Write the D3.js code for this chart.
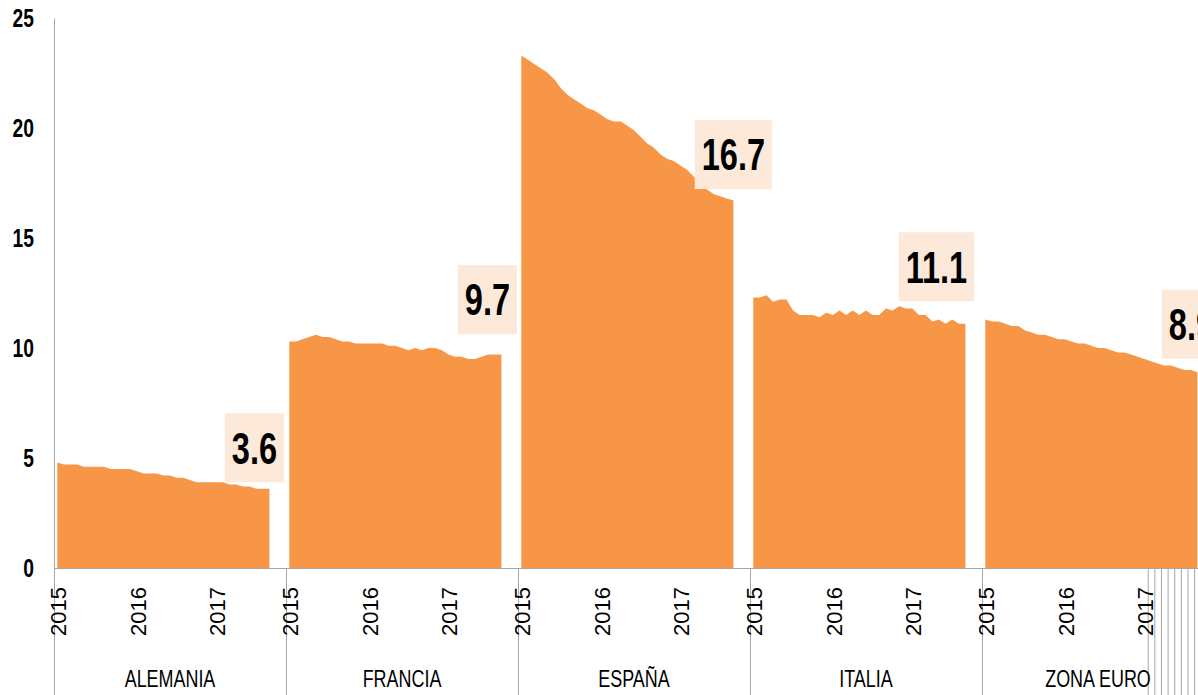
<!DOCTYPE html>
<html>
<head>
<meta charset="utf-8">
<script src="https://cdn.jsdelivr.net/npm/d3@7/dist/d3.min.js"></script>
<style>
    body { margin: 0; background: #fff; }
</style>
</head>
<body>
<div id="chart"></div>
<script>
// monthly unemployment rate (%), Jan 2015 - Sep 2017
const categories = ["ALEMANIA", "FRANCIA", "ESPAÑA", "ITALIA", "ZONA EURO"];
const yearLabels = ["2015", "2016", "2017"];
const yTicks = [0, 5, 10, 15, 20, 25];

const alemania = [4.8, 4.7, 4.7, 4.7, 4.6, 4.6, 4.6, 4.6, 4.5, 4.5, 4.5, 4.5, 4.4, 4.3, 4.3, 4.3, 4.2,
    4.2, 4.1, 4.1, 4.0, 3.9, 3.9, 3.9, 3.9, 3.9, 3.8, 3.8, 3.7, 3.7, 3.6, 3.6, 3.6];
const francia = [10.3, 10.3, 10.4, 10.5, 10.6, 10.5, 10.5, 10.4, 10.3, 10.3, 10.2, 10.2, 10.2, 10.2, 10.2, 10.1, 10.1,
    10.0, 9.9, 10.0, 9.9, 10.0, 10.0, 9.9, 9.7, 9.6, 9.6, 9.5, 9.5, 9.6, 9.7, 9.7, 9.7];
const espana = [23.3, 23.1, 22.9, 22.7, 22.5, 22.2, 21.8, 21.5, 21.3, 21.1, 20.9, 20.8, 20.6, 20.4, 20.3, 20.3, 20.1,
    19.9, 19.6, 19.3, 19.1, 18.8, 18.6, 18.5, 18.3, 18.1, 17.8, 17.5, 17.2, 17.0, 16.9, 16.8, 16.7];
const italia = [12.3, 12.3, 12.4, 12.1, 12.2, 12.2, 11.7, 11.5, 11.5, 11.5, 11.4, 11.6, 11.5, 11.7, 11.5, 11.7, 11.5,
    11.7, 11.5, 11.5, 11.8, 11.7, 11.9, 11.8, 11.8, 11.5, 11.5, 11.2, 11.3, 11.1, 11.3, 11.1, 11.1];
const zonaEuro = [11.3, 11.2, 11.2, 11.1, 11.0, 11.0, 10.8, 10.7, 10.6, 10.6, 10.5, 10.4, 10.4, 10.3, 10.2, 10.2, 10.1,
    10.0, 10.0, 9.9, 9.8, 9.8, 9.7, 9.6, 9.5, 9.4, 9.3, 9.2, 9.2, 9.1, 9.0, 9.0, 8.9];

const seriesList = [alemania, francia, espana, italia, zonaEuro];

const config = {
    width: 1198,
    height: 695,
    left: 54,
    groupWidth: 232,
    slotsPerGroup: 35,
    yTop: 18,
    yBottom: 568,
    color: "#F79646",
    boxColor: "#FDE9D9",
    axisColor: "#A6A6A6",
    font: "'Liberation Sans', Arial, sans-serif",
    narrow: 0.74, // horizontal squeeze to look like the condensed original font
    // label box centre, offset from the last point of each series (px)
    labelOffsets: [[-15, -41], [-14, -55], [0, -46], [-29, -57], [-6, -48]],
    // odd extra category ticks at the end of ZONA EURO
    extraTicks: [25, 26, 27, 28, 29, 30, 31, 32]
}

const svg = d3.select("#chart")
    .append("svg")
    .attr("width", config.width)
    .attr("height", config.height)
    .style("font-family", config.font)

const nSlots = categories.length * config.slotsPerGroup;
const scale_x = d3.scaleLinear()
    .domain([0, nSlots])
    .range([config.left, config.left + config.groupWidth * categories.length]);
const scale_y = d3.scaleLinear()
    .domain([0, 25])
    .range([config.yBottom, config.yTop]);

const g_area = svg.append("g")
const g_axisX = svg.append("g")
    .attr("transform", `translate(0, ${config.yBottom})`)
const g_axisY = svg.append("g")
    .attr("transform", `translate(${config.left}, 0)`)
const g_label = svg.append("g")

draw_areas()
draw_axis()
draw_labels()

function slotX(g, i) {
    return scale_x(g * config.slotsPerGroup + i + 0.5);
}

function draw_areas() {
    seriesList.forEach((series, g) => {
        const area = d3.area()
            .x((d, i) => slotX(g, i))
            .y0(scale_y(0))
            .y1(d => scale_y(d));
        g_area.append("path")
            .datum(series)
            .attr("d", area)
            .attr("fill", config.color)
    })
}

function draw_axis() {
    // y axis
    const axis_y = d3.axisLeft(scale_y)
        .tickValues(yTicks)
        .tickSize(0)
        .tickPadding(20)
    g_axisY.call(axis_y)
    g_axisY.select(".domain").attr("stroke", config.axisColor)
    g_axisY.selectAll("text")
        .attr("font-family", config.font)
        .attr("font-size", 26)
        .attr("font-weight", "bold")
        .attr("fill", "#000")
        .attr("x", -20 / config.narrow)
        .attr("transform", `scale(${config.narrow}, 1)`)

    // x axis: group separators + extra ticks
    const ticks = d3.range(categories.length + 1).map(g => g * config.slotsPerGroup)
        .concat(config.extraTicks.map(k => (categories.length - 1) * config.slotsPerGroup + k));
    const axis_x = d3.axisBottom(scale_x)
        .tickValues(ticks)
        .tickSize(config.height - config.yBottom)
        .tickSizeOuter(0)
        .tickFormat("")
    g_axisX.call(axis_x)
    g_axisX.select(".domain").attr("stroke", config.axisColor)
    g_axisX.selectAll(".tick line").attr("stroke", config.axisColor)

    // year labels, rotated
    const yearData = [];
    categories.forEach((c, g) => {
        yearLabels.forEach((yr, j) => yearData.push({ g: g, i: j * 12, text: yr }))
    })
    g_axisX.selectAll(".year")
        .data(yearData)
        .join("text")
        .attr("class", "year")
        .attr("transform", d => `translate(${slotX(d.g, d.i) + 1}, 19) rotate(-90)`)
        .attr("text-anchor", "end")
        .attr("dy", "0.36em")
        .attr("font-size", 22)
        .attr("fill", "#000")
        .text(d => d.text)

    g_axisX.selectAll(".cat")
        .data(categories)
        .join("text")
        .attr("class", "cat")
        .attr("transform", (d, g) =>
            `translate(${scale_x(g * config.slotsPerGroup + config.slotsPerGroup / 2)}, 119) scale(0.78, 1)`)
        .attr("text-anchor", "middle")
        .attr("font-size", 23)
        .attr("fill", "#000")
        .text(d => d)
}

function draw_labels() {
    seriesList.forEach((series, g) => {
        const last = series.length - 1;
        const cx = slotX(g, last) + config.labelOffsets[g][0];
        const cy = scale_y(series[last]) + config.labelOffsets[g][1];
        const lg = g_label.append("g")
        const box = lg.append("rect").attr("fill", config.boxColor)
        const txt = lg.append("text")
            .attr("transform", `translate(${cx}, ${cy}) scale(${config.narrow}, 1)`)
            .attr("dy", "0.36em")
            .attr("text-anchor", "middle")
            .attr("font-size", 44)
            .attr("font-weight", "bold")
            .attr("fill", "#000")
            .text(series[last].toFixed(1))
        const w = txt.node().getComputedTextLength() * config.narrow + 14;
        box.attr("x", cx - w / 2)
            .attr("y", cy - 34.5)
            .attr("width", w)
            .attr("height", 69)
    })
}
</script>
</body>
</html>
